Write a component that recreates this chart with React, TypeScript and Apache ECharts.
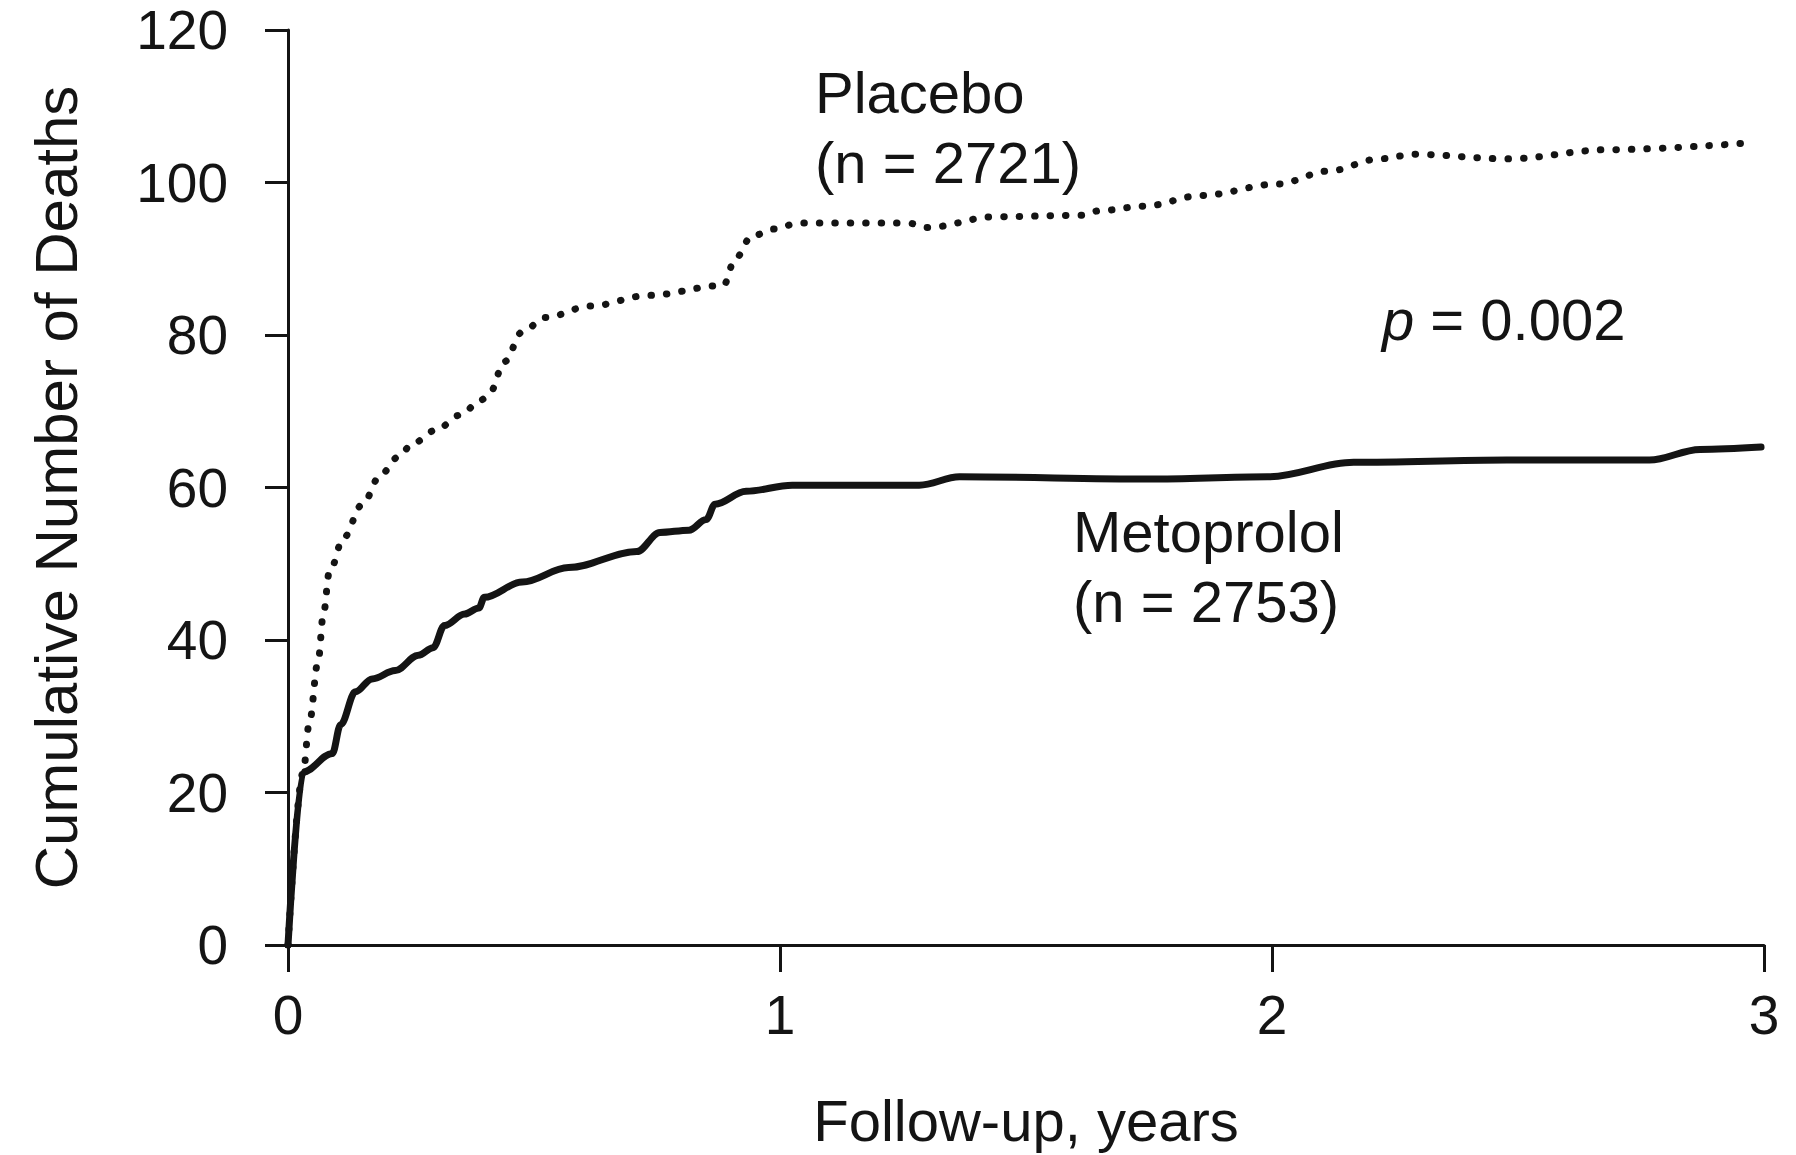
import React, { useEffect, useRef } from "react";
import * as echarts from "echarts";

// Follow-up time (years) and cumulative deaths
const placeboYears = [0, 0.031, 0.043, 0.061, 0.072, 0.084, 0.113, 0.15, 0.19, 0.224, 0.254, 0.3, 0.35, 0.393, 0.41, 0.44, 0.476, 0.523, 0.615, 0.733, 0.885, 0.909, 0.943, 0.99, 1.037, 1.259, 1.3, 1.435, 1.61, 1.65, 1.74, 1.857, 2.011, 2.115, 2.218, 2.29, 2.477, 2.684, 2.973];
const placeboDeaths = [0, 22.7, 29, 37.1, 43.4, 48.9, 53.4, 57.7, 61.8, 64, 65.8, 67.5, 69.5, 71.5, 72.4, 76.5, 80.4, 82.3, 83.8, 85.2, 86.5, 90, 93, 93.9, 94.7, 94.7, 94.1, 95.5, 95.7, 96.3, 96.9, 98.3, 99.8, 101.5, 103.1, 103.7, 103.1, 104.3, 105.2];

const metoprololYears = [0, 0.031, 0.09, 0.107, 0.137, 0.171, 0.218, 0.265, 0.295, 0.318, 0.359, 0.388, 0.399, 0.476, 0.57, 0.709, 0.756, 0.815, 0.85, 0.868, 0.931, 1.025, 1.283, 1.365, 1.75, 1.991, 2.166, 2.477, 2.767, 2.87, 2.994];
const metoprololDeaths = [0, 22.7, 25.1, 28.9, 33.2, 34.9, 36, 38, 39, 41.9, 43.4, 44.2, 45.6, 47.6, 49.5, 51.6, 54.1, 54.4, 55.8, 57.8, 59.5, 60.3, 60.3, 61.4, 61.1, 61.4, 63.3, 63.6, 63.6, 65, 65.3];

const xTicks = [0, 1, 2, 3];
const yTicks = [0, 20, 40, 60, 80, 100, 120];

const seriesNames = ["Placebo", "Metoprolol"];
const seriesCounts = ["(n = 2721)", "(n = 2753)"];
const pValueText = "{i|p} = 0.002";
const xTitle = "Follow-up, years";
const yTitle = "Cumulative Number of Deaths";

const FONT = '"Liberation Sans", Arial, Helvetica, sans-serif';
const INK = "#141414";

export default function App() {
  const ref = useRef<HTMLDivElement>(null);

  useEffect(() => {
    document.body.style.margin = "0";
    const el = ref.current;
    if (!el) return;
    const chart = echarts.init(el, null, { renderer: "svg" });

    const placeboData = placeboYears.map((x, i) => [x, placeboDeaths[i]]);
    const metoprololData = metoprololYears.map((x, i) => [x, metoprololDeaths[i]]);

    const axisLine = { show: true, lineStyle: { color: INK, width: 3 } };

    const textEl = (text: string, x: number, y: number, extra: any = {}) => ({
      type: "text",
      x,
      y,
      style: {
        text,
        fill: INK,
        fontSize: 58,
        fontFamily: FONT,
        align: "left",
        verticalAlign: "middle",
        ...extra,
      },
    });

    chart.setOption({
      animation: false,
      backgroundColor: "#ffffff",
      grid: {
        left: 288,
        top: 30,
        width: 1476,
        height: 915,
        containLabel: false,
        outerBoundsMode: "none",
      },
      xAxis: {
        type: "value",
        min: xTicks[0],
        max: xTicks[xTicks.length - 1],
        interval: 1,
        splitLine: { show: false },
        axisLine,
        axisTick: { show: true, inside: false, length: 27, lineStyle: { color: INK, width: 3 } },
        axisLabel: { fontSize: 55, fontFamily: FONT, color: INK, margin: 42 },
        name: xTitle,
        nameLocation: "middle",
        nameGap: 146,
        nameTextStyle: { fontSize: 58, fontFamily: FONT, color: INK },
      },
      yAxis: {
        type: "value",
        min: yTicks[0],
        max: yTicks[yTicks.length - 1],
        interval: 20,
        splitLine: { show: false },
        axisLine,
        axisTick: { show: true, inside: false, length: 23, lineStyle: { color: INK, width: 3 } },
        axisLabel: { fontSize: 55, fontFamily: FONT, color: INK, margin: 60 },
        name: yTitle,
        nameLocation: "middle",
        nameGap: 202,
        nameTextStyle: { fontSize: 60, fontFamily: FONT, color: INK },
      },
      series: [
        {
          name: seriesNames[0],
          type: "line",
          data: placeboData,
          showSymbol: false,
          smooth: 0.35,
          smoothMonotone: "x",
          z: 2,
          lineStyle: { color: INK, width: 7, type: [0.5, 15], cap: "round" },
        },
        {
          name: seriesNames[1],
          type: "line",
          data: metoprololData,
          showSymbol: false,
          smooth: 0.35,
          smoothMonotone: "x",
          z: 3,
          lineStyle: { color: INK, width: 7, type: "solid", cap: "round", join: "round" },
        },
      ],
      graphic: [
        textEl(seriesNames[0], 815, 92),
        textEl(seriesCounts[0], 815, 162),
        textEl(pValueText, 1382, 319, {
          rich: { i: { fontStyle: "italic", fontSize: 58, fontFamily: FONT, fill: INK } },
        }),
        textEl(seriesNames[1], 1073, 531),
        textEl(seriesCounts[1], 1073, 601),
      ],
    });

    return () => chart.dispose();
  }, []);

  return (
    <div
      ref={ref}
      style={{ position: "absolute", left: 0, top: 0, width: 1796, height: 1155, background: "#fff" }}
    />
  );
}
